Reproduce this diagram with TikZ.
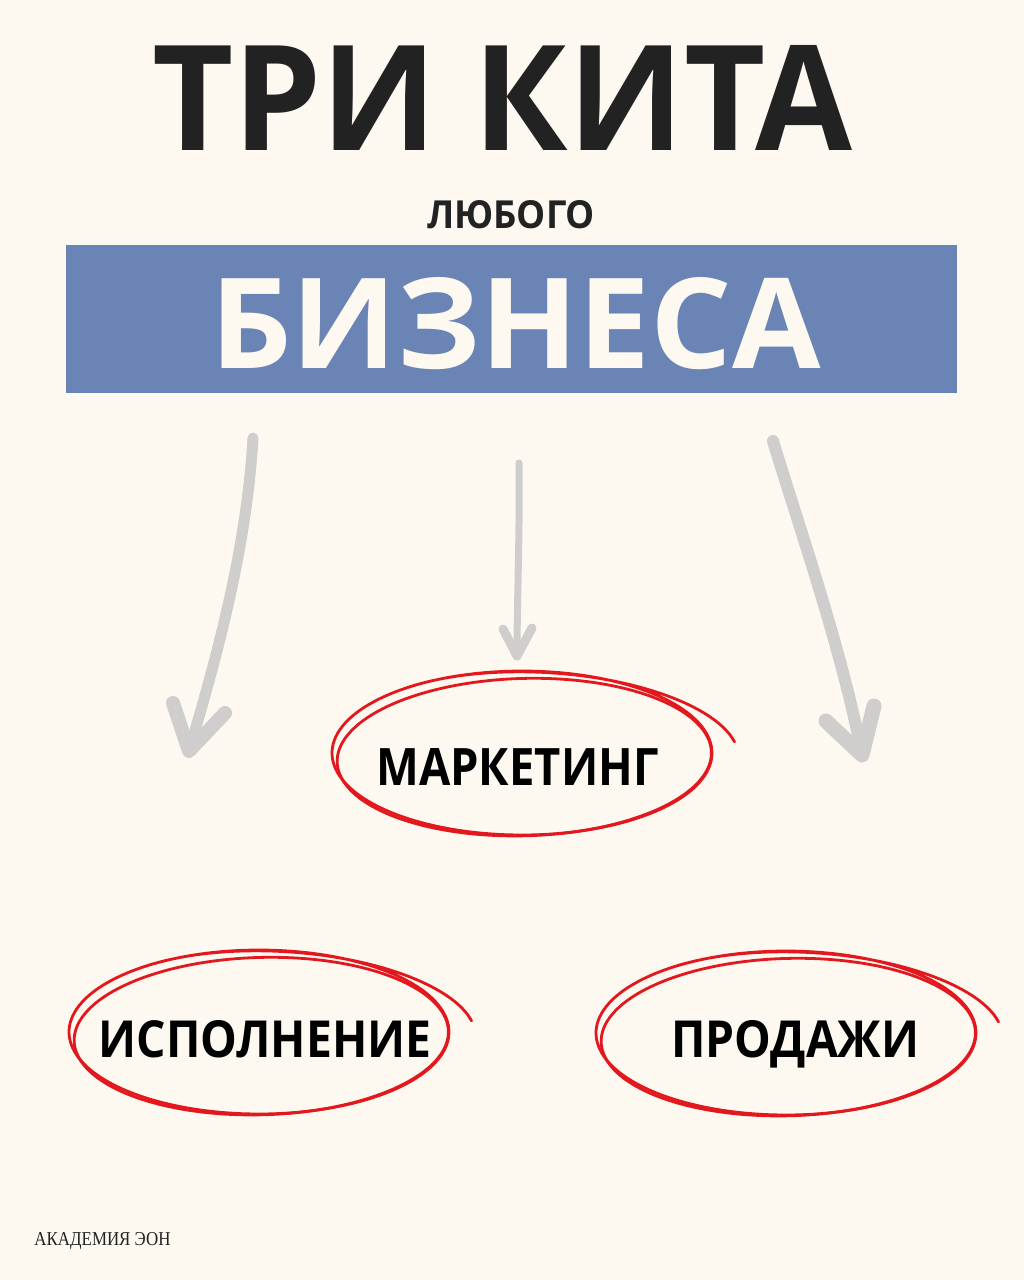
\documentclass[tikz,border=0pt]{standalone}
\usepackage{fontspec}
\usepackage{graphicx}
\setmainfont{Open Sans}
\newfontfamily\footfont{Liberation Serif}
\definecolor{bgc}{RGB}{253,249,241}
\definecolor{bandc}{RGB}{106,132,181}
\definecolor{inkc}{RGB}{34,34,34}
\definecolor{arrowc}{RGB}{207,206,204}
\definecolor{penc}{RGB}{226,24,30}
\newcommand{\fitto}[3]{\resizebox{#1pt}{#2pt}{#3}}
\newcommand{\redloop}[1]{%
  \begin{scope}[shift={(#1)}, xscale=190, yscale=82]
    \draw[redpen] plot[smooth, samples=100, domain=215:712]
      ({(1+0.13*max(0,(\x-590)/122))*cos(\x)}, {(1-0.03*max(0,(\x-590)/122))*sin(\x)});
    \draw[redpen] plot[smooth, samples=80, domain=150:530]
      ({0.985*cos(\x)+0.012}, {0.96*sin(\x)+0.05-0.05*cos(\x)});
  \end{scope}}
\begin{document}
\begin{tikzpicture}[x=1pt,y=-1pt,
  txt/.style={inner sep=0pt, font=\bfseries, text=inkc},
  redpen/.style={draw=penc, line width=2.8pt, line cap=round, line join=round},
  grayarrow/.style={draw=arrowc, line cap=round, line join=round}]
\fill[bgc] (0,0) rectangle (1024,1280);
\useasboundingbox (0,0) rectangle (1024,1280);

% heading
\node[txt, anchor=base] (title) at (502.5,150) {\fitto{700}{105}{ТРИ КИТА}};
\node[txt, anchor=base] (sub) at (511,228) {\fitto{168}{28}{ЛЮБОГО}};
\node[fill=bandc, minimum width=891pt, minimum height=148pt, inner sep=0pt] (band) at (511.5,319) {};
\node[txt, anchor=base, text=bgc] (biz) at (515.5,368) {\fitto{610}{91}{БИЗНЕСА}};

% arrows
\coordinate (la) at (253,438);
\coordinate (lt) at (189,751);
\coordinate (ll) at (173,703);
\coordinate (lr) at (225,713);
\draw[grayarrow, line width=11pt] (la) .. controls (247,540) and (222,640) .. (lt);
\draw[grayarrow, line width=14pt] (ll) -- (lt) -- (lr);

\coordinate (ma) at (519,463);
\coordinate (mt) at (517,656);
\coordinate (ml) at (503,629);
\coordinate (mr) at (532,628);
\draw[grayarrow, line width=7pt] (ma) .. controls (520,530) and (517,600) .. (mt);
\draw[grayarrow, line width=9pt] (ml) -- (mt) -- (mr);

\coordinate (ra) at (773,441);
\coordinate (rt) at (862,755);
\coordinate (rl) at (826,721);
\coordinate (rr) at (874,706);
\draw[grayarrow, line width=12pt] (ra) .. controls (800,530) and (842,650) .. (rt);
\draw[grayarrow, line width=15pt] (rl) -- (rt) -- (rr);

% three whales
\node[txt, anchor=base, text=black] (mk) at (517.5,785) {\fitto{282}{37}{МАРКЕТИНГ}};
\node[txt, anchor=base, text=black] (isp) at (265,1057) {\fitto{333}{37}{ИСПОЛНЕНИЕ}};
\node[txt, anchor=base, text=black] (prod) at (795.5,1057) {\fitto{248}{37}{ПРОДАЖИ}};
\coordinate (mkc) at (522,753);
\coordinate (ispc) at (259,1032);
\coordinate (prodc) at (786,1033);
\redloop{mkc}
\redloop{ispc}
\redloop{prodc}

% footer
\node[inner sep=0pt, anchor=base, text=inkc, font=\footfont] (foot) at (102.5,1245) {\fitto{136}{13}{АКАДЕМИЯ ЭОН}};
\end{tikzpicture}
\end{document}
